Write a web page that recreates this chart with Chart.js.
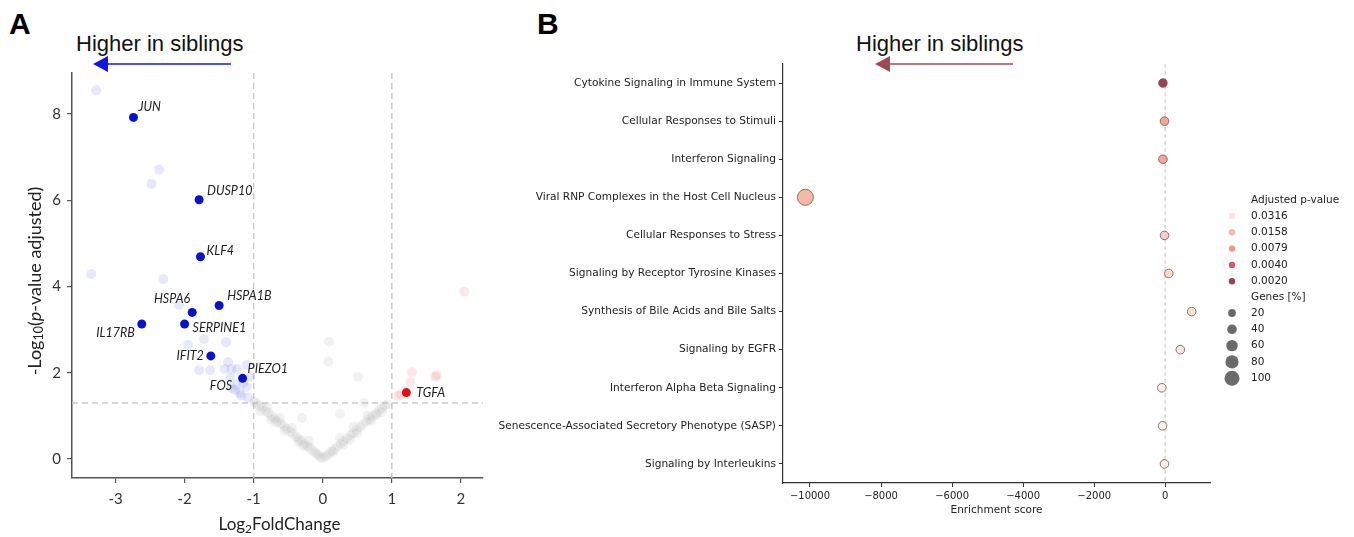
<!DOCTYPE html>
<html>
<head>
<meta charset="utf-8">
<script src="https://cdn.jsdelivr.net/npm/chart.js@4.4.1/dist/chart.umd.min.js"></script>
<style>
  body { margin: 0; background: #fff; width: 1354px; height: 537px; position: relative; overflow: hidden; font-family: "Liberation Sans", Arial, sans-serif; }
  canvas { position: absolute; top: 0; }
  #volcano { left: 0; }
  #dots { left: 490px; }
  .tag { position: absolute; top: 7px; font-size: 30px; font-weight: bold; color: #000; line-height: normal; }
  .head { position: absolute; top: 31px; font-size: 22px; color: #111; line-height: normal; white-space: nowrap; }
</style>
</head>
<body>
<div class="tag" style="left:9px">A</div>
<div class="tag" style="left:537px">B</div>
<div class="head" style="left:76px">Higher in siblings</div>
<div class="head" style="left:856px">Higher in siblings</div>
<canvas id="volcano" width="500" height="537"></canvas>
<canvas id="dots" width="864" height="537"></canvas>
<script>
// ---- panel A: volcano ----
const xTicksA = [-3, -2, -1, 0, 1, 2];
const yTicksA = [0, 2, 4, 6, 8];
const foldLines = [-1, 1];
const padjCut = 0.05;

const sigDownGenes = ['JUN', 'DUSP10', 'KLF4', 'HSPA1B', 'HSPA6', 'SERPINE1', 'IL17RB', 'IFIT2', 'PIEZO1'];
const sigDownLfc = [-2.74, -1.79, -1.77, -1.50, -1.89, -2.00, -2.62, -1.62, -1.16];
const sigDownLogP = [7.92, 6.01, 4.69, 3.56, 3.40, 3.13, 3.13, 2.39, 1.87];

const sigUpGenes = ['TGFA'];
const sigUpLfc = [1.21];
const sigUpLogP = [1.54];

const fadedGenes = ['FOS'];
const fadedLfc = [-1.27];
const fadedLogP = [1.60];

const downLfc = [-3.28, -2.37, -2.48, -3.35, -2.31, -2.08, -1.95, -1.72, -1.40, -1.79, -1.63, -1.37, -1.42, -1.32, -1.24, -1.10, -1.34, -1.20, -1.10, -1.08, -1.32, -1.05, -1.15, -1.25, -1.18];
const downLogP = [8.55, 6.71, 6.38, 4.29, 4.17, 3.57, 2.65, 2.78, 2.71, 2.06, 2.06, 2.25, 2.09, 2.09, 2.09, 2.18, 1.88, 1.53, 1.67, 1.42, 1.65, 1.90, 1.75, 1.72, 1.47];

const upLfc = [2.05, 1.29, 1.63, 1.27, 1.09, 1.65, 1.13];
const upLogP = [3.88, 2.01, 1.91, 1.78, 1.46, 1.95, 1.50];

const nsLfc = [-0.02, -0.05, -0.08, -0.11, -0.15, -0.19, -0.22, -0.26, -0.31, -0.34, -0.38, -0.43, -0.47, -0.52, -0.56, -0.61, -0.65, -0.70, -0.74, -0.79, -0.83, -0.88, -0.92, -0.96, -0.99,
  -0.35, -0.55, -0.75, -0.90, -0.62, -0.45, -0.20, -0.80, -0.28, -0.68,
  0.02, 0.05, 0.09, 0.13, 0.17, 0.21, 0.26, 0.30, 0.35, 0.40, 0.44, 0.49, 0.54, 0.58, 0.63, 0.68, 0.72, 0.77, 0.82, 0.86, 0.90, 0.94,
  0.30, 0.50, 0.70, 0.85, 0.45, 0.65, 0.25, 0.40, 0.15, 0.78,
  0.09, 0.08, 0.51, 0.25, -0.30, 0.60];
const nsLogP = [0.03, 0.07, 0.11, 0.15, 0.20, 0.26, 0.30, 0.35, 0.42, 0.46, 0.51, 0.58, 0.63, 0.70, 0.76, 0.82, 0.88, 0.94, 1.00, 1.07, 1.12, 1.19, 1.24, 1.29, 1.33,
  0.40, 0.66, 0.92, 1.10, 0.95, 0.72, 0.42, 1.20, 0.30, 0.85,
  0.03, 0.07, 0.12, 0.18, 0.23, 0.29, 0.36, 0.41, 0.48, 0.55, 0.60, 0.68, 0.74, 0.80, 0.87, 0.93, 0.99, 1.06, 1.13, 1.18, 1.24, 1.27,
  0.33, 0.60, 0.88, 1.08, 0.75, 1.00, 0.50, 0.45, 0.16, 1.02,
  2.72, 2.26, 1.91, 1.05, 0.95, 1.30];

// ---- panel B: pathway enrichment ----
const pathways = [
  'Cytokine Signaling in Immune System',
  'Cellular Responses to Stimuli',
  'Interferon Signaling',
  'Viral RNP Complexes in the Host Cell Nucleus',
  'Cellular Responses to Stress',
  'Signaling by Receptor Tyrosine Kinases',
  'Synthesis of Bile Acids and Bile Salts',
  'Signaling by EGFR',
  'Interferon Alpha Beta Signaling',
  'Senescence-Associated Secretory Phenotype (SASP)',
  'Signaling by Interleukins'
];
const enrichScore = [-65, -20, -65, -10130, -20, 100, 745, 425, -95, -75, -20];
const padj = [0.0021, 0.011, 0.011, 0.015, 0.022, 0.026, 0.030, 0.034, 0.045, 0.045, 0.045];
const genesPct = [18, 18, 18, 100, 18, 18, 18, 18, 18, 18, 18];
const xTicksB = [-10000, -8000, -6000, -4000, -2000, 0];
const padjLegend = [0.0316, 0.0158, 0.0079, 0.0040, 0.0020];
const genesLegend = [20, 40, 60, 80, 100];

const pts = (xs, ys) => xs.map((x, i) => ({ x, y: ys[i] }));

// label placement next to each named point: [dx, dy, align]
const labelPos = {
  JUN: [5, -10, 'left'], DUSP10: [8, -9, 'left'], KLF4: [6, -6, 'left'], HSPA1B: [8, -10, 'left'],
  HSPA6: [-2, -13, 'right'], SERPINE1: [8, 4, 'left'], IL17RB: [-7, 9, 'right'], IFIT2: [-7, 0, 'right'],
  PIEZO1: [5, -9, 'left'], FOS: [-3, -4, 'right'], TGFA: [10, 0, 'left']
};

function drawParts(ctx, parts, cx, cy, angle) {
  ctx.save();
  ctx.translate(cx, cy);
  ctx.rotate(angle);
  let w = 0;
  parts.forEach(p => { ctx.font = p.font; w += ctx.measureText(p.t).width; });
  let x = -w / 2;
  ctx.textBaseline = 'middle';
  ctx.textAlign = 'left';
  parts.forEach(p => {
    ctx.font = p.font;
    ctx.fillText(p.t, x, p.dy || 0);
    x += ctx.measureText(p.t).width;
  });
  ctx.restore();
}

function arrowLeft(ctx, xFrom, xTip, y, color) {
  ctx.save();
  ctx.strokeStyle = color;
  ctx.fillStyle = color;
  ctx.lineWidth = 1.5;
  ctx.beginPath();
  ctx.moveTo(xFrom, y);
  ctx.lineTo(xTip + 12, y);
  ctx.stroke();
  ctx.beginPath();
  ctx.moveTo(xTip, y);
  ctx.lineTo(xTip + 15, y - 8);
  ctx.lineTo(xTip + 15, y + 8);
  ctx.closePath();
  ctx.fill();
  ctx.restore();
}

const volcanoDecor = {
  id: 'volcanoDecor',
  beforeDatasetsDraw(chart) {
    const { ctx, chartArea: a, scales: { x, y } } = chart;
    ctx.save();
    ctx.strokeStyle = '#c9c9c9';
    ctx.lineWidth = 1.5;
    ctx.setLineDash([6, 4]);
    foldLines.forEach(v => {
      const px = x.getPixelForValue(v);
      ctx.beginPath(); ctx.moveTo(px, a.top); ctx.lineTo(px, a.bottom); ctx.stroke();
    });
    const py = y.getPixelForValue(-Math.log10(padjCut));
    ctx.beginPath(); ctx.moveTo(a.left, py); ctx.lineTo(a.right, py); ctx.stroke();
    ctx.restore();
  },
  afterDatasetsDraw(chart) {
    const { ctx, scales: { x, y } } = chart;
    ctx.save();
    ctx.font = 'italic 12.5px Lato';
    ctx.fillStyle = '#222';
    ctx.textBaseline = 'middle';
    const put = (names, xs, ys) => names.forEach((n, i) => {
      const [dx, dy, al] = labelPos[n];
      ctx.textAlign = al;
      ctx.fillText(n, x.getPixelForValue(xs[i]) + dx, y.getPixelForValue(ys[i]) + dy);
    });
    put(sigDownGenes, sigDownLfc, sigDownLogP);
    put(fadedGenes, fadedLfc, fadedLogP);
    put(sigUpGenes, sigUpLfc, sigUpLogP);
    ctx.restore();
  },
  afterDraw(chart) {
    const { ctx, chartArea: a } = chart;
    ctx.fillStyle = '#222';
    drawParts(ctx, [
      { t: 'Log', font: '17px Lato' },
      { t: '2', font: '12px Lato', dy: 4 },
      { t: 'FoldChange', font: '17px Lato' }
    ], (a.left + a.right) / 2 + 2, 525, 0);
    drawParts(ctx, [
      { t: '-Log', font: '18px Lato' },
      { t: '10', font: '12.5px Lato', dy: 4 },
      { t: '(', font: '18px Lato' },
      { t: 'p', font: 'italic 18px Lato' },
      { t: '-value adjusted)', font: '18px Lato' }
    ], 35, 281, -Math.PI / 2);
    arrowLeft(ctx, 231, 93, 64, '#1414e6');
  }
};

new Chart(document.getElementById('volcano'), {
  type: 'scatter',
  data: {
    datasets: [
      { data: pts(sigDownLfc, sigDownLogP), backgroundColor: '#0714cc', pointRadius: 4.5, borderWidth: 0 },
      { data: pts(sigUpLfc, sigUpLogP), backgroundColor: '#e3100f', pointRadius: 4.5, borderWidth: 0 },
      { data: pts(downLfc.concat(fadedLfc), downLogP.concat(fadedLogP)), backgroundColor: 'rgba(95,105,225,0.15)', pointRadius: 5, borderWidth: 0 },
      { data: pts(upLfc, upLogP), backgroundColor: 'rgba(235,100,100,0.15)', pointRadius: 5, borderWidth: 0 },
      { data: pts(nsLfc, nsLogP), backgroundColor: 'rgba(185,185,185,0.18)', pointRadius: 5, borderWidth: 0 }
    ]
  },
  options: {
    responsive: false,
    animation: false,
    devicePixelRatio: 1,
    layout: { padding: { top: 73, right: 17, left: 0, bottom: 0 } },
    plugins: { legend: { display: false }, tooltip: { enabled: false } },
    scales: {
      x: {
        type: 'linear', min: -3.63, max: 2.32,
        afterBuildTicks: s => { s.ticks = xTicksA.map(v => ({ value: v })); },
        afterFit: s => { s.height = 59; },
        grid: { drawOnChartArea: false, drawTicks: true, tickLength: 5, color: '#555', lineWidth: 1.2 },
        border: { color: '#555', width: 1.5 },
        ticks: { padding: 7, color: '#333', font: { family: 'Lato', size: 15 }, maxRotation: 0 }
      },
      y: {
        type: 'linear', min: -0.44, max: 8.95,
        afterBuildTicks: s => { s.ticks = yTicksA.map(v => ({ value: v })); },
        afterFit: s => { s.width = 72; },
        grid: { drawOnChartArea: false, drawTicks: true, tickLength: 5, color: '#555', lineWidth: 1.2 },
        border: { color: '#555', width: 1.5 },
        ticks: { padding: 6, color: '#333', font: { family: 'Lato', size: 15 } }
      }
    }
  },
  plugins: [volcanoDecor]
});

// ---- panel B helpers ----
const cmapStops = [[-2.7, [142, 44, 60]], [-2.4, [213, 67, 80]], [-2.1, [238, 138, 116]], [-1.8, [245, 180, 158]], [-1.5, [251, 227, 217]], [-1.3, [253, 244, 240]]];
function padjColor(p, alpha) {
  const v = Math.log10(p);
  let c = cmapStops[cmapStops.length - 1][1];
  if (v <= cmapStops[0][0]) c = cmapStops[0][1];
  else {
    for (let i = 1; i < cmapStops.length; i++) {
      if (v <= cmapStops[i][0]) {
        const t = (v - cmapStops[i - 1][0]) / (cmapStops[i][0] - cmapStops[i - 1][0]);
        c = cmapStops[i - 1][1].map((a, k) => Math.round(a + (cmapStops[i][1][k] - a) * t));
        break;
      }
    }
  }
  return `rgba(${c[0]},${c[1]},${c[2]},${alpha})`;
}
const radiusFor = pct => 3.5 + 0.045 * pct;
const fmtMinus = v => (v < 0 ? '\u2212' + Math.abs(v) : String(v));

const dotsDecor = {
  id: 'dotsDecor',
  beforeDatasetsDraw(chart) {
    const { ctx, chartArea: a, scales: { x } } = chart;
    const px = x.getPixelForValue(0);
    ctx.save();
    ctx.strokeStyle = 'rgba(215,195,195,0.7)';
    ctx.lineWidth = 1.5;
    ctx.setLineDash([4, 3]);
    ctx.beginPath(); ctx.moveTo(px, a.top); ctx.lineTo(px, a.bottom); ctx.stroke();
    ctx.restore();
  },
  afterDraw(chart) {
    const { ctx, chartArea: a } = chart;
    ctx.save();
    ctx.fillStyle = '#222';
    ctx.font = '10.5px "DejaVu Sans"';
    ctx.textAlign = 'center';
    ctx.textBaseline = 'middle';
    ctx.fillText('Enrichment score', (a.left + a.right) / 2, 510);

    // legend
    const lx = 742, tx = 761;
    ctx.textAlign = 'left';
    ctx.fillText('Adjusted p-value', tx, 200);
    padjLegend.forEach((p, i) => {
      const yy = 216 + i * 16.3;
      ctx.beginPath(); ctx.arc(lx, yy, 3.2, 0, Math.PI * 2);
      ctx.fillStyle = padjColor(p, 0.9); ctx.fill();
      ctx.fillStyle = '#222';
      ctx.fillText(p.toFixed(4), tx, yy);
    });
    ctx.fillText('Genes [%]', tx, 297);
    genesLegend.forEach((g, i) => {
      const yy = 313 + i * 16.3;
      ctx.beginPath(); ctx.arc(lx, yy, radiusFor(g) - 0.5, 0, Math.PI * 2);
      ctx.fillStyle = 'rgba(90,90,90,0.9)'; ctx.fill();
      ctx.fillStyle = '#222';
      ctx.fillText(String(g), tx, yy);
    });
    ctx.restore();
    arrowLeft(ctx, 523, 385, 64, '#a04a55');
  }
};

new Chart(document.getElementById('dots'), {
  type: 'scatter',
  data: {
    datasets: [{
      data: pathways.map((p, i) => ({ x: enrichScore[i], y: p })),
      pointRadius: ctx => radiusFor(genesPct[ctx.dataIndex]),
      backgroundColor: ctx => padjColor(padj[ctx.dataIndex], 0.9),
      borderColor: 'rgba(120,90,90,0.85)',
      borderWidth: 1
    }]
  },
  options: {
    responsive: false,
    animation: false,
    devicePixelRatio: 1,
    layout: { padding: { top: 64, right: 144, left: 0, bottom: 0 } },
    plugins: { legend: { display: false }, tooltip: { enabled: false } },
    scales: {
      x: {
        type: 'linear', min: -10760, max: 1260,
        afterBuildTicks: s => { s.ticks = xTicksB.map(v => ({ value: v })); },
        afterFit: s => { s.height = 54; },
        grid: { drawOnChartArea: false, drawTicks: true, tickLength: 4, color: '#333', lineWidth: 1 },
        border: { color: '#333', width: 1.2 },
        ticks: { padding: 3, color: '#222', font: { family: 'DejaVu Sans', size: 10 }, maxRotation: 0, callback: v => fmtMinus(v) }
      },
      y: {
        type: 'category', labels: pathways, offset: true,
        afterFit: s => { s.width = 293; },
        grid: { drawOnChartArea: false, drawTicks: true, tickLength: 4, color: '#333', lineWidth: 1 },
        border: { color: '#333', width: 1.2 },
        ticks: { padding: 3, color: '#222', font: { family: 'DejaVu Sans', size: 10.6 } }
      }
    }
  },
  plugins: [dotsDecor]
});
</script>
</body>
</html>
